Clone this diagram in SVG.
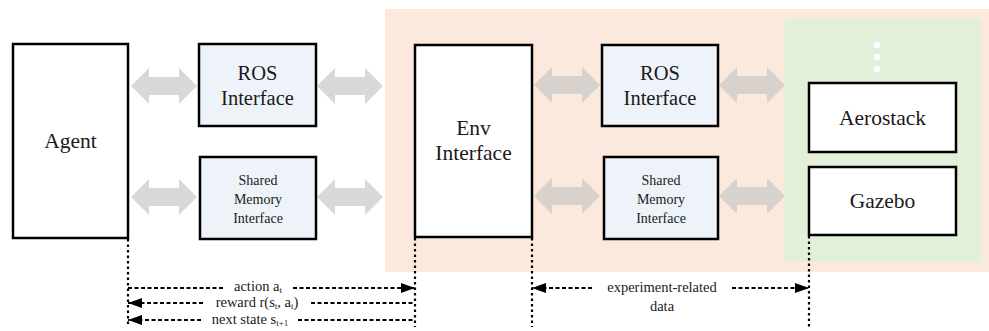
<svg xmlns="http://www.w3.org/2000/svg" width="989" height="331" viewBox="0 0 989 331">
  <style>
    .box { fill: #ffffff; stroke: #000000; stroke-width: 2.5; }
    .iface { fill: #eef3f9; stroke: #000000; stroke-width: 2.5; }
    .dbl { fill: #c8c8c8; fill-opacity: 0.7; }
    .dash { stroke: #000000; stroke-width: 2; stroke-dasharray: 4 2.5; fill: none; }
    .dot { stroke: #000000; stroke-width: 2.2; stroke-dasharray: 2.5 3; fill: none; }
  </style>
  <defs>
    <!-- double-headed block arrow, 66px long, centred on origin vertically -->
    <path id="dbl" d="M0 0 L18 -18 L18 -9 L48 -9 L48 -18 L66 0 L48 18 L48 9 L18 9 L18 18 Z"/>
    <marker id="headL" viewBox="0 0 14 10" refX="14" refY="5" markerWidth="14" markerHeight="10" markerUnits="userSpaceOnUse" orient="auto">
      <path d="M0 0 L14 5 L0 10 Z" fill="#000000"/>
    </marker>
  </defs>

  <!-- backgrounds: environment side and simulator region -->
  <rect x="385" y="9" width="604" height="263" fill="#fce9dd"/>
  <rect x="785" y="19" width="196" height="243" fill="#e2efd9"/>
  <g id="more" fill="#ffffff">
    <circle cx="877" cy="45" r="3.2"/>
    <circle cx="877" cy="57" r="3.2"/>
    <circle cx="877" cy="69" r="3.2"/>
  </g>

  <!-- block arrows -->
  <g id="links" class="dbl">
    <use href="#dbl" x="131" y="86"/>
    <use href="#dbl" x="317" y="86"/>
    <use href="#dbl" x="131" y="197"/>
    <use href="#dbl" x="317" y="197"/>
    <use href="#dbl" x="534" y="85"/>
    <use href="#dbl" x="719" y="85"/>
    <use href="#dbl" x="534" y="196"/>
    <use href="#dbl" x="719" y="196"/>
  </g>

  <g font-family="Liberation Serif, DejaVu Serif, serif" fill="#1a1a1a" text-anchor="middle">
    <g id="agent">
      <rect class="box" x="13" y="44" width="115" height="194"/>
      <text font-size="21.5" x="70.5" y="148">Agent</text>
    </g>
    <g id="ros-left">
      <rect class="iface" x="199" y="44" width="117" height="82"/>
      <text font-size="20.5" x="257.5" y="80">ROS</text>
      <text font-size="20.5" x="257.5" y="105">Interface</text>
    </g>
    <g id="shm-left">
      <rect class="iface" x="200" y="157" width="116" height="82"/>
      <text font-size="14" x="258" y="185">Shared</text>
      <text font-size="14" x="258" y="204">Memory</text>
      <text font-size="14" x="258" y="223">Interface</text>
    </g>
    <g id="env">
      <rect class="box" x="415" y="45" width="117" height="192"/>
      <text font-size="21.5" x="473.5" y="135">Env</text>
      <text font-size="21.5" x="473.5" y="160">Interface</text>
    </g>
    <g id="ros-right">
      <rect class="iface" x="602" y="45" width="116" height="81"/>
      <text font-size="20.5" x="660" y="80">ROS</text>
      <text font-size="20.5" x="660" y="105">Interface</text>
    </g>
    <g id="shm-right">
      <rect class="iface" x="604" y="157" width="114" height="82"/>
      <text font-size="14" x="661" y="185">Shared</text>
      <text font-size="14" x="661" y="204">Memory</text>
      <text font-size="14" x="661" y="223">Interface</text>
    </g>
    <g id="aerostack">
      <rect class="box" x="809" y="83" width="147" height="69"/>
      <text font-size="21.5" x="882.5" y="125">Aerostack</text>
    </g>
    <g id="gazebo">
      <rect class="box" x="809" y="167" width="147" height="68"/>
      <text font-size="21.5" x="882.5" y="208">Gazebo</text>
    </g>
  </g>

  <!-- signal lines -->
  <g id="connectors">
    <line class="dot" x1="128" y1="239" x2="128" y2="327"/>
    <line class="dot" x1="415" y1="238" x2="415" y2="327"/>
    <line class="dot" x1="532" y1="238" x2="532" y2="327"/>
    <line class="dot" x1="809" y1="236" x2="809" y2="327"/>

    <line class="dash" x1="128" y1="288" x2="224" y2="288"/>
    <line class="dash" x1="293" y1="288" x2="415" y2="288" marker-end="url(#headL)"/>

    <line class="dash" x1="203" y1="303" x2="128" y2="303" marker-end="url(#headL)"/>
    <line class="dash" x1="311" y1="303" x2="415" y2="303"/>

    <line class="dash" x1="201" y1="320" x2="128" y2="320" marker-end="url(#headL)"/>
    <line class="dash" x1="298" y1="320" x2="415" y2="320"/>

    <line class="dash" x1="592" y1="288" x2="532" y2="288" marker-end="url(#headL)"/>
    <line class="dash" x1="732" y1="288" x2="809" y2="288" marker-end="url(#headL)"/>
  </g>

  <g id="labels" font-family="Liberation Serif, DejaVu Serif, serif" font-size="14.5" fill="#1a1a1a" text-anchor="middle">
    <text x="258" y="291">action a<tspan font-size="9" dy="1.5">t</tspan></text>
    <text x="257" y="307">reward r(s<tspan font-size="9" dy="1.5">t</tspan><tspan dy="-1.5">, a</tspan><tspan font-size="9" dy="1.5">t</tspan><tspan dy="-1.5">)</tspan></text>
    <text x="250" y="324">next state s<tspan font-size="9" dy="1.5">t+1</tspan></text>
    <text x="662" y="292">experiment-related</text>
    <text x="662" y="311">data</text>
  </g>
</svg>
